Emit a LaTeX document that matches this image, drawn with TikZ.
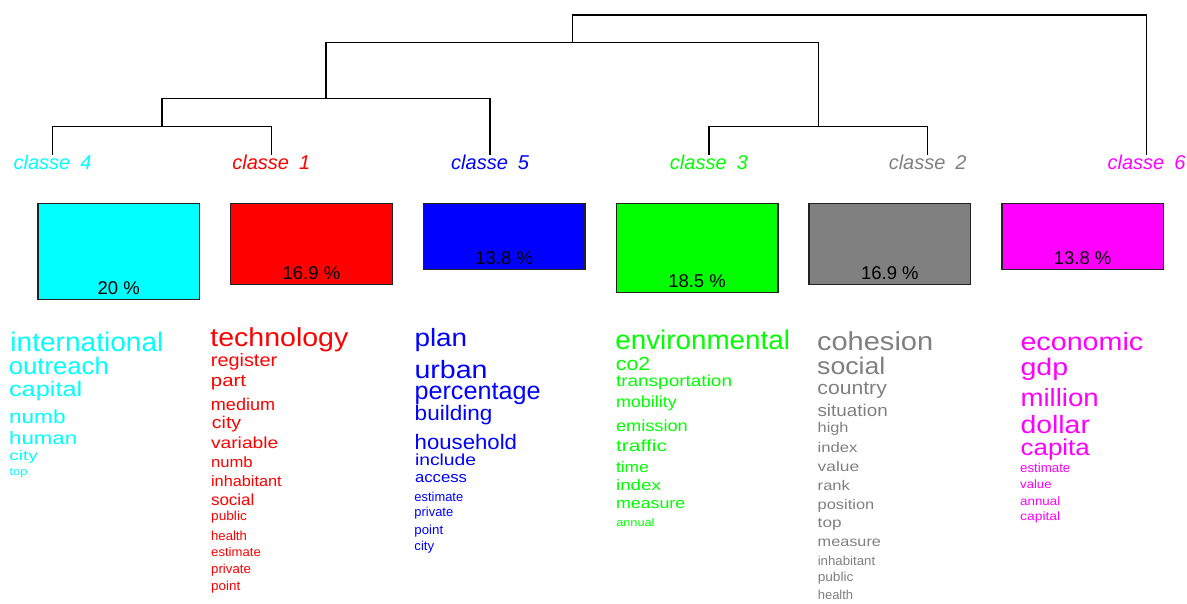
\documentclass[tikz,border=0pt]{standalone}
\usepackage{fontspec}
\setmainfont{Liberation Sans}
\usepackage{graphicx}
\usetikzlibrary{calc}

\definecolor{kcyan}{RGB}{0,255,255}
\definecolor{kred}{RGB}{255,0,0}
\definecolor{kblue}{RGB}{0,0,255}
\definecolor{kgreen}{RGB}{0,255,0}
\definecolor{kgray}{RGB}{128,128,128}
\definecolor{kmagenta}{RGB}{255,0,255}
\definecolor{kborder}{RGB}{34,34,34}

\tikzset{
  link/.style={draw=black, line width=1.4pt},
  classlab/.style={anchor=base, inner sep=0pt, font=\fontsize{20pt}{20pt}\selectfont\itshape},
  bar/.style={draw=kborder, line width=1.3pt, anchor=north west, inner sep=0pt, minimum width=161.6pt},
  pct/.style={anchor=base, inner sep=0pt, font=\fontsize{18.5pt}{18.5pt}\selectfont, text=black},
  word/.style={anchor=base west, inner sep=0pt},
}

% one word of a class profile: name, x, baseline y, size, ink width, text
\newcommand\wrd[6]{%
  \pgfmathsetmacro\wrdx{#2-0.055*#4}%
  \pgfmathsetmacro\wrdw{#5+0.11*#4}%
  \node[word] (#1) at (\wrdx,#3) {\resizebox{\wrdw pt}{\height}{\fontsize{#4pt}{#4pt}\selectfont #6}};}

\begin{document}
\begin{tikzpicture}[x=1pt, y=-1pt]
\fill[white] (0,0) rectangle (1187,603);
\useasboundingbox (0,0) rectangle (1187,603);

% ---- class labels
\node[classlab, text=kcyan]    (c4) at (52.5,169)  {classe\hspace{0.5em}4};
\node[classlab, text=kred]     (c1) at (271.3,169) {classe\hspace{0.5em}1};
\node[classlab, text=kblue]    (c5) at (490.1,169) {classe\hspace{0.5em}5};
\node[classlab, text=kgreen]   (c3) at (708.9,169) {classe\hspace{0.5em}3};
\node[classlab, text=kgray]    (c2) at (927.7,169) {classe\hspace{0.5em}2};
\node[classlab, text=kmagenta] (c6) at (1146.5,169){classe\hspace{0.5em}6};

% ---- dendrogram
\coordinate (l4) at (52.5,155);
\coordinate (l1) at (271.3,155);
\coordinate (l5) at (490.1,155);
\coordinate (l3) at (708.9,155);
\coordinate (l2) at (927.7,155);
\coordinate (l6) at (1146.5,155);
\coordinate (m41) at (161.9,126.5);
\coordinate (m415) at (326,98.3);
\coordinate (m32) at (818.3,126.5);
\coordinate (m5) at (572.2,42.7);
\coordinate (root) at (859.4,15);

\draw[link] (l4) |- (m41) -| (l1);
\draw[link] (m41) |- (m415) -| (l5);
\draw[link] (l3) |- (m32) -| (l2);
\draw[link] (m415) |- (m5) -| (m32);
\draw[link] (m5) |- (root) -| (l6);

% ---- class size bars
\node[bar, fill=kcyan,    minimum height=96pt]   (b4) at (37.2,202.7)  {};
\node[bar, fill=kred,     minimum height=81.1pt] (b1) at (230,202.7)   {};
\node[bar, fill=kblue,    minimum height=66.2pt] (b5) at (422.8,202.7) {};
\node[bar, fill=kgreen,   minimum height=88.8pt] (b3) at (615.6,202.7) {};
\node[bar, fill=kgray,    minimum height=81.1pt] (b2) at (808.4,202.7) {};
\node[bar, fill=kmagenta, minimum height=66.2pt] (b6) at (1001.2,202.7){};

\node[pct] (p4) at ($(b4.south)+(0,-5.5)$) {20 \%};
\node[pct] (p1) at ($(b1.south)+(0,-5.5)$) {16.9 \%};
\node[pct] (p5) at ($(b5.south)+(0,-5.5)$) {13.8 \%};
\node[pct] (p3) at ($(b3.south)+(0,-5.5)$) {18.5 \%};
\node[pct] (p2) at ($(b2.south)+(0,-5.5)$) {16.9 \%};
\node[pct] (p6) at ($(b6.south)+(0,-5.5)$) {13.8 \%};

% ---- class 4 words
\begin{scope}[every node/.append style={text=kcyan}]
\wrd{w4a}{11.7}{351}{27}{150}{international}
\wrd{w4b}{10}{374.3}{24}{97.3}{outreach}
\wrd{w4c}{10}{396}{21}{71}{capital}
\wrd{w4d}{10}{423.3}{19}{54.3}{numb}
\wrd{w4e}{10}{444}{18}{66}{human}
\wrd{w4f}{10}{460}{14}{26.7}{city}
\wrd{w4g}{10}{475.7}{11}{16.7}{top}
\end{scope}

% ---- class 1 words
\begin{scope}[every node/.append style={text=kred}]
\wrd{w1a}{211.7}{346.7}{26}{135}{technology}
\wrd{w1b}{211.7}{366.7}{18}{64.3}{register}
\wrd{w1c}{211.7}{386.7}{17}{33.3}{part}
\wrd{w1d}{211.7}{410}{17}{62.3}{medium}
\wrd{w1e}{212.7}{428.3}{17}{27.3}{city}
\wrd{w1f}{211.7}{448.3}{16}{65.6}{variable}
\wrd{w1g}{211.7}{467.7}{15}{40}{numb}
\wrd{w1h}{211.7}{486.7}{15}{69}{inhabitant}
\wrd{w1i}{211.7}{505.3}{16}{41.7}{social}
\wrd{w1j}{211.7}{520}{13}{34.3}{public}
\wrd{w1k}{211.7}{540}{13}{34.3}{health}
\wrd{w1l}{211.7}{556.7}{12.5}{48.3}{estimate}
\wrd{w1m}{211.7}{573.3}{13}{38.3}{private}
\wrd{w1n}{211.7}{590}{13}{27.7}{point}
\end{scope}

% ---- class 5 words
\begin{scope}[every node/.append style={text=kblue}]
\wrd{w5a}{415.7}{346.7}{25}{50}{plan}
\wrd{w5b}{415.7}{378.3}{25}{70.3}{urban}
\wrd{w5c}{415.7}{399}{25}{123.3}{percentage}
\wrd{w5d}{415.7}{420}{21}{75.3}{building}
\wrd{w5e}{415.7}{449}{21}{100}{household}
\wrd{w5f}{415.7}{465}{16}{59.3}{include}
\wrd{w5g}{415.7}{482.7}{15}{50.3}{access}
\wrd{w5h}{415}{501.7}{13}{47.3}{estimate}
\wrd{w5i}{415}{516.7}{13}{37.3}{private}
\wrd{w5j}{415}{534.3}{13}{27.3}{point}
\wrd{w5k}{415}{550}{13}{18.3}{city}
\end{scope}

% ---- class 3 words
\begin{scope}[every node/.append style={text=kgreen}]
\wrd{w3a}{616.7}{349.3}{27}{171.6}{environmental}
\wrd{w3b}{616.7}{370}{19}{32.3}{co2}
\wrd{w3c}{616.7}{386}{16}{114.3}{transportation}
\wrd{w3d}{616.7}{407.3}{16}{59}{mobility}
\wrd{w3e}{616.7}{431.7}{16}{70}{emission}
\wrd{w3f}{616.7}{451.7}{16}{49.3}{traffic}
\wrd{w3g}{616.7}{472.7}{15}{31}{time}
\wrd{w3h}{616.7}{490.7}{15}{43.3}{index}
\wrd{w3i}{616.7}{508.3}{15}{67.6}{measure}
\wrd{w3j}{616.7}{526}{11}{37}{annual}
\end{scope}

% ---- class 2 words
\begin{scope}[every node/.append style={text=kgray}]
\wrd{w2a}{818.3}{350.7}{26}{113.3}{cohesion}
\wrd{w2b}{818.3}{374.3}{24}{65.6}{social}
\wrd{w2c}{818.3}{394}{19}{67.3}{country}
\wrd{w2d}{818.3}{416.7}{17}{68.3}{situation}
\wrd{w2e}{818.3}{432.3}{14}{29.3}{high}
\wrd{w2f}{818.3}{452.7}{14}{38.3}{index}
\wrd{w2g}{818.3}{471.7}{14}{40}{value}
\wrd{w2h}{818.3}{490.7}{14}{30.7}{rank}
\wrd{w2i}{818.3}{509}{14}{55}{position}
\wrd{w2j}{818.3}{527.3}{14}{22.3}{top}
\wrd{w2k}{818.3}{546.7}{14}{61.7}{measure}
\wrd{w2l}{818.3}{565}{13}{56}{inhabitant}
\wrd{w2m}{818.3}{581.7}{13}{34.3}{public}
\wrd{w2n}{818.3}{599.3}{13}{34}{health}
\end{scope}

% ---- class 6 words
\begin{scope}[every node/.append style={text=kmagenta}]
\wrd{w6a}{1021.7}{350.7}{25}{120}{economic}
\wrd{w6b}{1021.7}{375}{24}{45}{gdp}
\wrd{w6c}{1021.7}{406}{25}{75.6}{million}
\wrd{w6d}{1021.7}{433.3}{25}{66.7}{dollar}
\wrd{w6e}{1021.7}{455}{23}{66.7}{capita}
\wrd{w6f}{1020.7}{472.7}{13}{48.7}{estimate}
\wrd{w6g}{1020.7}{488.3}{12}{30}{value}
\wrd{w6h}{1020.7}{505}{12}{38.7}{annual}
\wrd{w6i}{1020.7}{520}{12}{38.7}{capital}
\end{scope}
\end{tikzpicture}
\end{document}
